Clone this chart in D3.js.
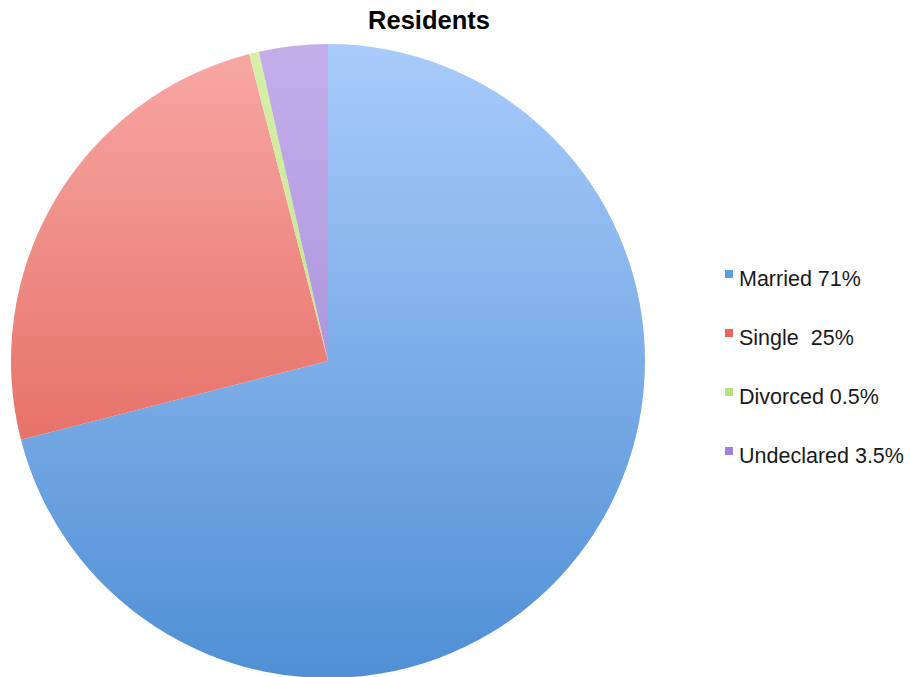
<!DOCTYPE html>
<html>
<head>
<meta charset="utf-8">
<script src="https://cdn.jsdelivr.net/npm/d3@7"></script>
<style>
  html, body { margin: 0; padding: 0; background: #ffffff; }
  svg { display: block; font-family: "Liberation Sans", Arial, Helvetica, sans-serif; }
</style>
</head>
<body>
<svg id="chart" width="910" height="677"></svg>
<script>
// Marital status of residents
const categories = ["Married", "Single", "Divorced", "Undeclared"];
const values = [71, 25, 0.5, 3.5];
const legendLabels = ["Married 71%", "Single  25%", "Divorced 0.5%", "Undeclared 3.5%"];
const topColors = ["#a9cbfb", "#f8a8a5", "#d6f0a8", "#c4aeea"];
const bottomColors = ["#4f8fd4", "#dc5246", "#b2dc78", "#9a7fd2"];
const legendColors = ["#5b9be0", "#ea6560", "#b8e27f", "#9d82d8"];

const svg = d3.select("#chart");

const cx = 328, cy = 361, radius = 317;

// Vertical shading across the whole disc, light at the top, darker at the bottom
const defs = svg.append("defs");
categories.forEach((c, i) => {
  const grad = defs.append("linearGradient")
    .attr("id", "grad" + i)
    .attr("gradientUnits", "userSpaceOnUse")
    .attr("x1", 0).attr("x2", 0)
    .attr("y1", -radius).attr("y2", radius);
  grad.append("stop").attr("offset", "0%").attr("stop-color", topColors[i]);
  grad.append("stop").attr("offset", "100%").attr("stop-color", bottomColors[i]);
});

const pie = d3.pie().sort(null).value(d => d.value);
const arc = d3.arc().innerRadius(0).outerRadius(radius);
const data = categories.map((c, i) => ({ name: c, value: values[i], i }));

svg.append("g")
  .attr("transform", `translate(${cx},${cy})`)
  .selectAll("path")
  .data(pie(data))
  .join("path")
  .attr("d", arc)
  .attr("fill", d => `url(#grad${d.data.i})`);

// Title
svg.append("text")
  .attr("x", 429)
  .attr("y", 29)
  .attr("text-anchor", "middle")
  .attr("font-size", 25.5)
  .attr("font-weight", "bold")
  .attr("fill", "#000")
  .text("Residents");

// Legend
const rowY = d3.scalePoint().domain(categories).range([278, 455]);
const rows = svg.append("g").selectAll("g.row")
  .data(categories)
  .join("g")
  .attr("class", "row")
  .attr("transform", d => `translate(0,${rowY(d)})`);
rows.append("rect")
  .attr("x", 725).attr("y", -8)
  .attr("width", 8).attr("height", 8)
  .attr("fill", (d, i) => legendColors[i]);
rows.append("text")
  .attr("x", 739).attr("y", 8)
  .attr("font-size", 21.5)
  .attr("fill", "#1a1a1a")
  .style("white-space", "pre")
  .text((d, i) => legendLabels[i]);
</script>
</body>
</html>
